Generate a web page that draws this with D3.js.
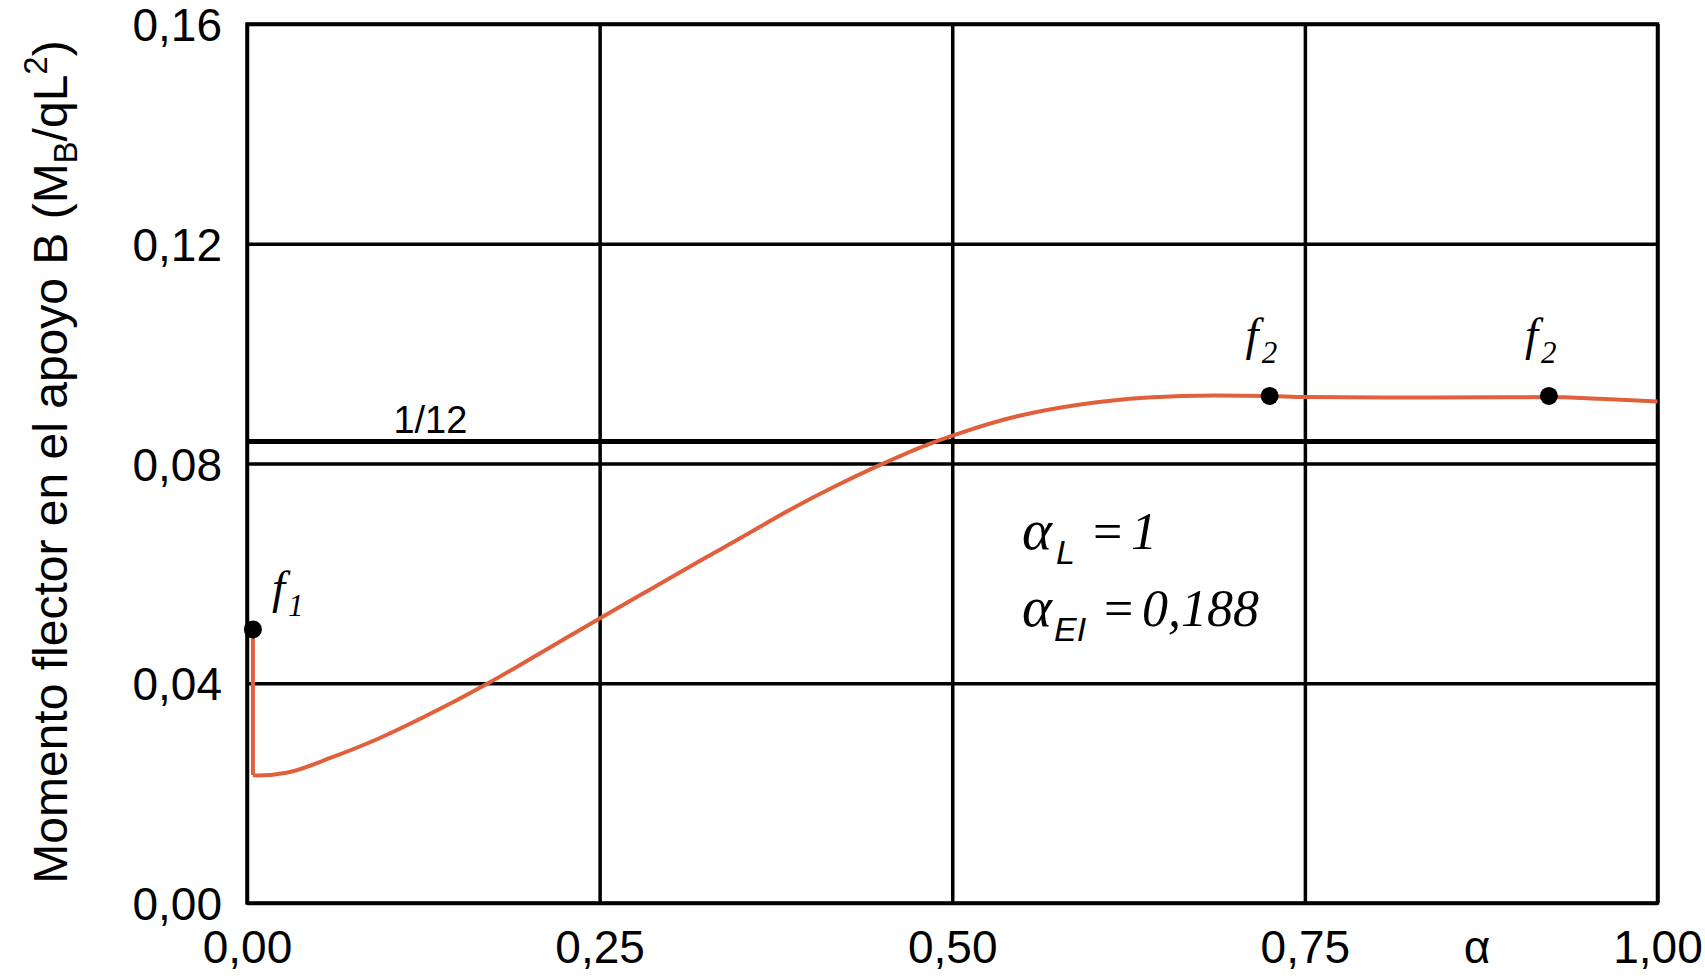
<!DOCTYPE html>
<html>
<head>
<meta charset="utf-8">
<script src="https://cdn.jsdelivr.net/npm/d3@7"></script>
<style>
  body { margin: 0; background: #fff; }
  svg { display: block; }
</style>
</head>
<body>
<svg width="1705" height="977"></svg>
<script>
// data
var xTicks = [0, 0.25, 0.5, 0.75, 1];
var yTicks = [0, 0.04, 0.08, 0.12, 0.16];
var alpha  = [0.0042, 0.008, 0.028, 0.06, 0.093, 0.125, 0.171, 0.206, 0.25, 0.288, 0.32, 0.353, 0.385, 0.418, 0.445, 0.483, 0.505, 0.546, 0.592, 0.639, 0.686, 0.725, 0.75, 0.841, 0.923, 0.959, 1.0];
var moment = [0.0233, 0.0232, 0.0237, 0.0265, 0.0299, 0.0338, 0.04, 0.0452, 0.0518, 0.0574, 0.0621, 0.0669, 0.0716, 0.076, 0.0793, 0.0835, 0.0855, 0.0886, 0.0908, 0.092, 0.0924, 0.0923, 0.0921, 0.092, 0.0921, 0.0918, 0.0913];
var dropX = [0.0042, 0.0042];
var dropY = [0.0498, 0.0233];
var dotX = [0.0042, 0.725, 0.923];
var dotY = [0.0498, 0.0923, 0.0923];
var dotLabel = ["1", "2", "2"];
var refValue = 0.084;   // the "1/12" line, as drawn
var refLabel = "1/12";

var svg = d3.select("svg");
var mLeft = 247, mRight = 1657.5, mTop = 24, mBottom = 903;
var width = mRight - mLeft, height = mBottom - mTop;

var xScale = d3.scaleLinear().domain([0, 1]).range([0, width]);
var yScale = d3.scaleLinear().domain([0, 0.16]).range([height, 0]);

var comma = d3.formatLocale({decimal: ",", thousands: ".", grouping: [3], currency: ["", ""]}).format(".2f");

var g = svg.append("g").attr("transform", "translate(" + mLeft + "," + mTop + ")");

// grid lines through the axes
var gx = g.append("g")
  .attr("transform", "translate(0," + height + ")")
  .call(d3.axisBottom(xScale).tickValues(xTicks).tickSizeInner(-height).tickSizeOuter(0).tickPadding(0).tickFormat(comma));
var gy = g.append("g")
  .call(d3.axisLeft(yScale).tickValues(yTicks).tickSizeInner(-width).tickSizeOuter(0).tickPadding(0).tickFormat(comma));

[gx, gy].forEach(function(a){
  a.select(".domain").remove();
  a.selectAll("line").attr("stroke", "#000").attr("stroke-width", 3.5);
  a.selectAll("text").attr("fill", "#000").style("font-family", "'Liberation Sans', Arial, sans-serif").style("font-size", "46px");
});
gx.selectAll("text").attr("y", 60).attr("dy", 0);
gy.selectAll("text").attr("x", -25).attr("dy", "0.36em");

// the 1/12 reference line
g.append("line")
  .attr("x1", 0).attr("x2", width)
  .attr("y1", yScale(refValue)).attr("y2", yScale(refValue))
  .attr("stroke", "#000").attr("stroke-width", 5);
g.append("text")
  .attr("x", xScale(0.13)).attr("y", yScale(refValue) - 9)
  .attr("text-anchor", "middle")
  .style("font-family", "'Liberation Sans', Arial, sans-serif").style("font-size", "38px")
  .text(refLabel);

// frame
g.append("rect")
  .attr("width", width).attr("height", height)
  .attr("fill", "none").attr("stroke", "#000").attr("stroke-width", 3.5);

// curve
var line = d3.line()
  .x(function(d){ return xScale(d[0]); })
  .y(function(d){ return yScale(d[1]); });

g.append("path")
  .datum(d3.zip(dropX, dropY))
  .attr("d", line)
  .attr("fill", "none").attr("stroke", "#e0603c").attr("stroke-width", 4);

g.append("path")
  .datum(d3.zip(alpha, moment))
  .attr("d", line.curve(d3.curveMonotoneX))
  .attr("fill", "none").attr("stroke", "#e0603c").attr("stroke-width", 4);

// points f1, f2
g.selectAll("circle")
  .data(d3.zip(dotX, dotY))
  .enter()
  .append("circle")
  .attr("r", 9)
  .attr("cx", function(d){ return xScale(d[0]); })
  .attr("cy", function(d){ return yScale(d[1]); })
  .attr("fill", "#000");

var fl = g.selectAll(".flab")
  .data(d3.zip(dotX, dotY, dotLabel))
  .enter()
  .append("text")
  .attr("class", "flab")
  .attr("x", function(d, i){ return xScale(d[0]) + (i == 0 ? 19 : -24); })
  .attr("y", function(d, i){ return yScale(d[1]) + (i == 0 ? -26 : -46); })
  .style("font-family", "'Liberation Serif', 'Times New Roman', serif")
  .style("font-style", "italic");
fl.append("tspan").style("font-size", "47px").text("f");
fl.append("tspan").attr("dx", 3).attr("dy", 13).style("font-size", "31px").text(function(d){ return d[2]; });

// alpha annotations
function note(y, sub, val, subX, eqX, valX){
  var t = svg.append("text").attr("y", y)
    .style("font-family", "'Liberation Serif', 'Times New Roman', serif")
    .style("font-style", "italic").style("font-size", "52px");
  t.append("tspan").attr("x", 1022).style("font-size", "57px").text("α");
  t.append("tspan").attr("x", subX).attr("dy", 15)
    .style("font-family", "'Liberation Sans', Arial, sans-serif").style("font-size", "34px").text(sub);
  t.append("tspan").attr("x", eqX).attr("dy", -15).style("font-style", "normal").text("=");
  t.append("tspan").attr("x", valX).text(val);
}
note(549, "L", "1", 1056, 1093, 1131);
note(626, "EI", "0,188", 1054, 1104, 1142);

// axis titles
svg.append("text")
  .attr("x", mLeft + xScale(0.872)).attr("y", 963)
  .attr("text-anchor", "middle")
  .style("font-family", "'Liberation Sans', Arial, sans-serif").style("font-size", "46px")
  .text("α");

var yt = svg.append("text")
  .attr("transform", "translate(67,462) rotate(-90)")
  .attr("text-anchor", "middle")
  .style("font-family", "'Liberation Sans', Arial, sans-serif").style("font-size", "48px");
yt.append("tspan").text("Momento flector en el apoyo B (M");
yt.append("tspan").attr("dy", 10).style("font-size", "33px").text("B");
yt.append("tspan").attr("dy", -10).text("/qL");
yt.append("tspan").attr("dy", -20).style("font-size", "33px").text("2");
yt.append("tspan").attr("dy", 20).text(")");
</script>
</body>
</html>
